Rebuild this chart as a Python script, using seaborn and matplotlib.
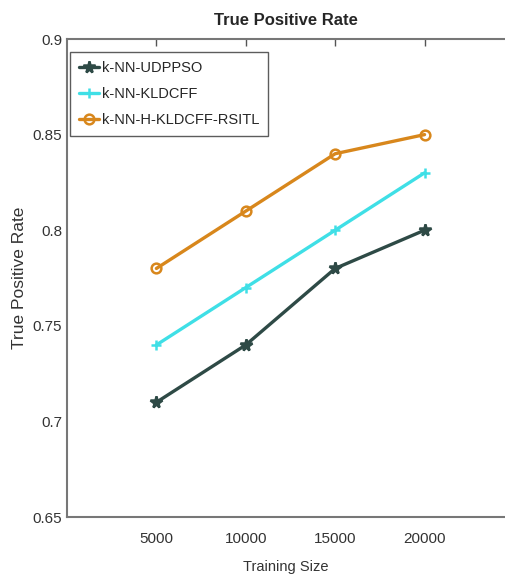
import numpy as np
import pandas as pd
import seaborn as sns
from matplotlib import pyplot as plt

training_size = [5000, 10000, 15000, 20000]
udppso = [0.71, 0.74, 0.78, 0.80]
kldcff = [0.74, 0.77, 0.80, 0.83]
rsitl = [0.78, 0.81, 0.84, 0.85]

series_names = ["k-NN-UDPPSO", "k-NN-KLDCFF", "k-NN-H-KLDCFF-RSITL"]
series_values = [udppso, kldcff, rsitl]
colors = ["#2e4a46", "#3fdfe6", "#d8871c"]
markers = ["*", "+", "o"]

sns.set_style("white")
plt.rcParams['font.family'] = ['Liberation Sans', 'DejaVu Sans']

fig = plt.figure(figsize=(5.05, 5.84), dpi=100)
ax = fig.add_axes([0.1327, 0.1147, 0.8673, 0.8185])

for name, vals, col, mk in zip(series_names, series_values, colors, markers):
    df = pd.DataFrame({"size": training_size, "tpr": vals})
    sns.lineplot(data=df, x="size", y="tpr", ax=ax, color=col, linewidth=2.4,
                 marker=mk, markersize=7 if mk != "*" else 8.5,
                 markerfacecolor="none" if mk == "o" else col,
                 markeredgecolor=col, markeredgewidth=1.8, label=name)

ax.set_xlim(0, 24500)
ax.set_ylim(0.65, 0.9)
ax.set_xticks(training_size)
ax.set_yticks([0.65, 0.7, 0.75, 0.8, 0.85, 0.9])
ax.set_yticklabels(["0.65", "0.7", "0.75", "0.8", "0.85", "0.9"])
ax.tick_params(axis="both", direction="in", length=5, width=1, color="#555555",
               labelsize=11, labelcolor="#333333", top=True, pad=3.5)
ax.tick_params(axis="x", pad=11)
for side in ["left", "bottom", "top"]:
    ax.spines[side].set_color("#777777")
    ax.spines[side].set_linewidth(1.5)
ax.spines["right"].set_visible(False)

ax.set_xlabel("Training Size", fontsize=10.5, color="#333333", labelpad=10)
ax.set_ylabel("True Positive Rate", fontsize=12.5, color="#333333", labelpad=4)
ax.set_title("True Positive Rate", fontsize=12, fontweight="bold", pad=10)

leg = ax.legend(loc="upper left", bbox_to_anchor=(0.007, 0.973), borderaxespad=0,
                fontsize=10.5, frameon=True, fancybox=False,
                handlelength=1.4, handletextpad=0.2,
                borderpad=0.6, labelspacing=0.85)
leg.get_frame().set_edgecolor("#333333")
leg.get_frame().set_linewidth(1.0)

fig.savefig("out.png", dpi=100)
